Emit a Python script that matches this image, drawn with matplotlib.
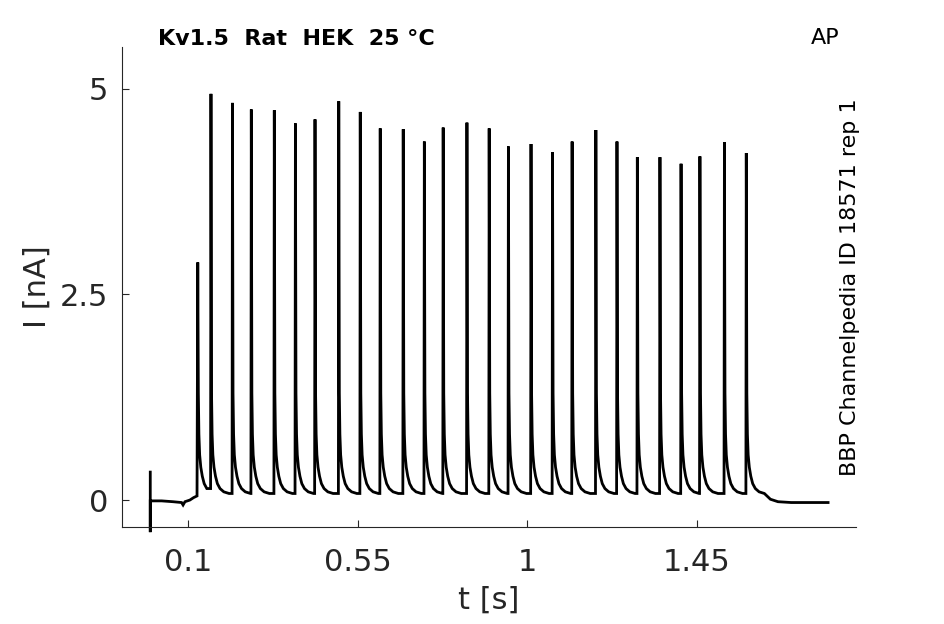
import matplotlib
matplotlib.use('Agg')
import matplotlib.pyplot as plt
import numpy as np

# spike peak times [s] and peak currents [nA]
spike_t = [0.126, 0.161, 0.218, 0.268, 0.329, 0.385, 0.437, 0.500, 0.557,
           0.610, 0.671, 0.727, 0.777, 0.840, 0.899, 0.950, 1.010, 1.067,
           1.119, 1.182, 1.238, 1.292, 1.352, 1.408, 1.458, 1.523, 1.581]
spike_i = [2.89, 4.94, 4.83, 4.75, 4.74, 4.58, 4.63, 4.85, 4.72,
           4.52, 4.51, 4.36, 4.53, 4.59, 4.52, 4.30, 4.33, 4.23,
           4.36, 4.50, 4.36, 4.17, 4.17, 4.09, 4.18, 4.35, 4.22]

# decay after each peak: time after peak [s] and current [nA]
decay_dt = [0.0015, 0.003, 0.005, 0.008, 0.012, 0.017, 0.024, 0.034, 0.048]
decay_i = [1.30, 0.80, 0.55, 0.40, 0.29, 0.20, 0.14, 0.10, 0.08]

# before the pulse train (incl. stimulus artifact) and after it
pre_t = [0.0, 0.0, 0.0, 0.003, 0.03, 0.06, 0.083, 0.087, 0.092, 0.105, 0.115, 0.124]
pre_i = [0.34, -0.39, -0.01, -0.01, -0.01, -0.02, -0.03, -0.06, -0.02, 0.0, 0.03, 0.05]
post_t = [1.645, 1.665, 1.70, 1.75, 1.798]
post_i = [0.01, -0.02, -0.03, -0.03, -0.03]

xticks = [0.1, 0.55, 1, 1.45]
xticklabels = ['0.1', '0.55', '1', '1.45']
yticks = [0, 2.5, 5]
yticklabels = ['0', '2.5', '5']

# build the trace
t = list(pre_t)
y = list(pre_i)
for k, (tp, ip) in enumerate(zip(spike_t, spike_i)):
    if k > 0:
        t.append(tp - 0.001)
        y.append(y[-1])
    t.append(tp)
    y.append(ip)
    for dt, di in zip(decay_dt, decay_i):
        if k < len(spike_t) - 1 and tp + dt >= spike_t[k + 1] - 0.001:
            break
        t.append(tp + dt)
        y.append(di)
t += post_t
y += post_i

gray = '#262626'
fig = plt.figure(figsize=(9.45, 6.24), dpi=100)
ax = fig.add_axes([0.1291, 0.1554, 0.7767, 0.7693])
ax.plot(t, y, color='black', lw=2.0, clip_on=False, solid_joinstyle='miter')

ax.set_xlim(-0.075, 1.872)
ax.set_ylim(-0.328, 5.51)
ax.set_xticks(xticks)
ax.set_xticklabels(xticklabels)
ax.set_yticks(yticks)
ax.set_yticklabels(yticklabels)
ax.spines['top'].set_visible(False)
ax.spines['right'].set_visible(False)
for s in ('left', 'bottom'):
    ax.spines[s].set_color(gray)
    ax.spines[s].set_linewidth(0.8)
ax.tick_params(direction='in', length=5, width=0.8, colors=gray,
               labelsize=22)
ax.tick_params(axis='x', pad=15)
ax.tick_params(axis='y', pad=10)
ax.set_xlabel('t [s]', fontsize=22, color=gray, labelpad=6)
ax.set_ylabel('I [nA]', fontsize=22, color=gray, labelpad=6)

fig.text(158 / 945, 1 - 39 / 624, 'Kv1.5  Rat  HEK  25 °C', fontsize=16,
         fontweight='bold', ha='left', va='center')
fig.text(825 / 945, 1 - 38 / 624, 'AP', fontsize=16, ha='center', va='center')
fig.text(850 / 945, 1 - 287 / 624, 'BBP Channelpedia ID 18571 rep 1',
         fontsize=16, rotation=90, ha='center', va='center')

fig.savefig('out.png', dpi=100)
